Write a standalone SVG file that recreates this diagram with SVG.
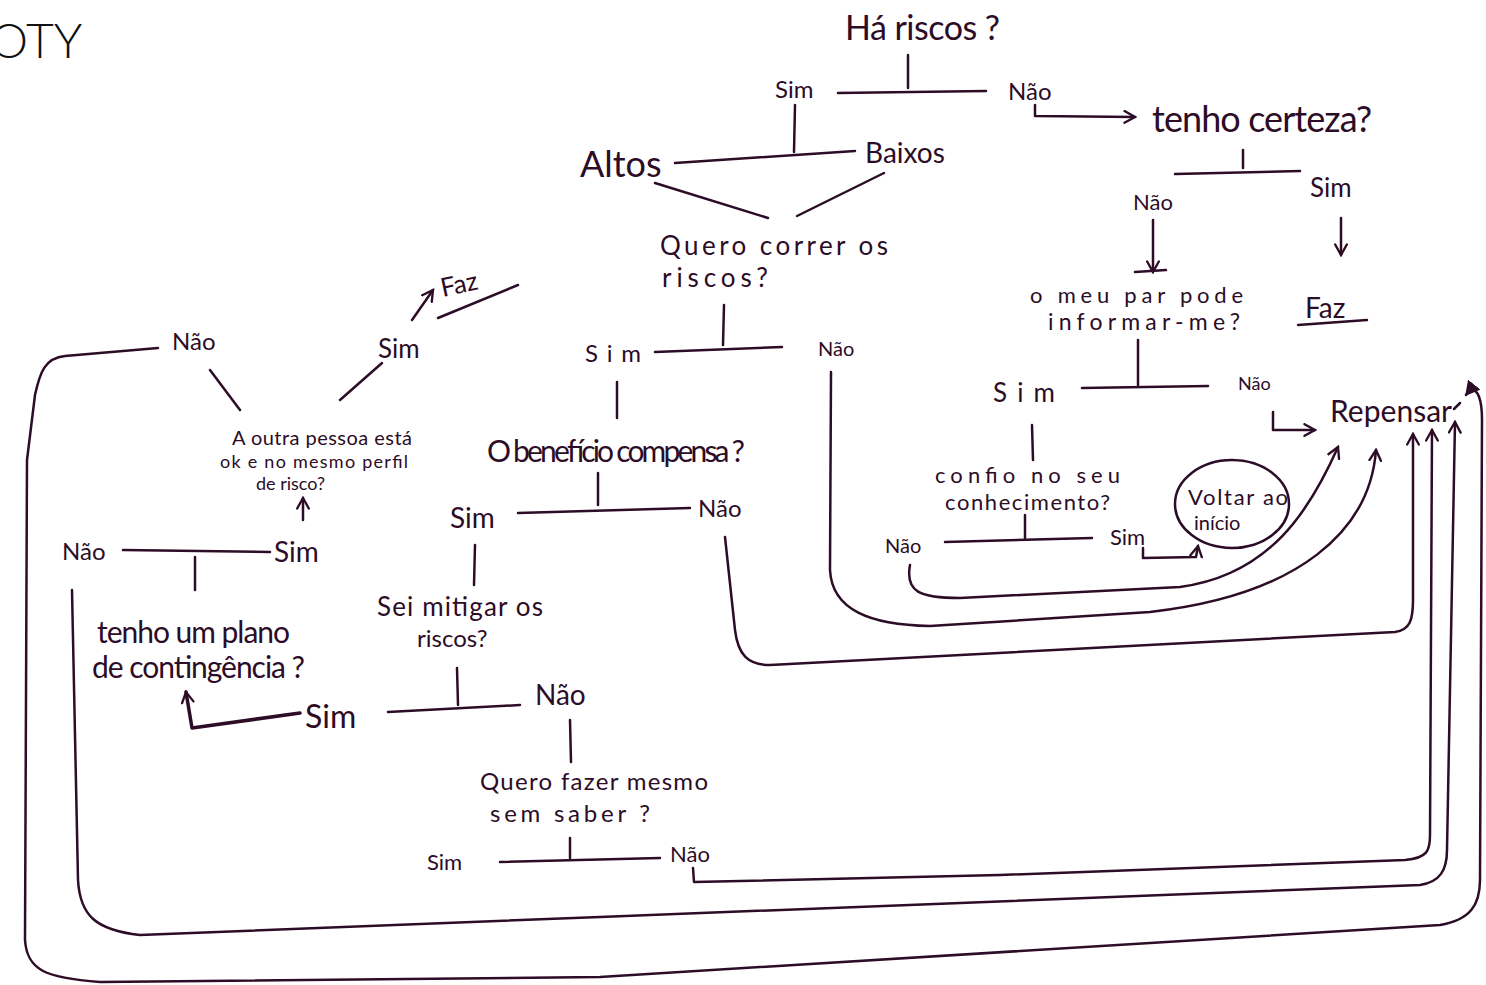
<svg xmlns="http://www.w3.org/2000/svg" width="1486" height="985" viewBox="0 0 1486 985">
<style>
.t{font-family:Lato,"Liberation Sans",sans-serif;fill:#2c0c26}
.c{fill:none;stroke:#2c0c26;stroke-width:2.5;stroke-linecap:round;stroke-linejoin:round}
.k{stroke-width:3.5}
.hdr{font-family:Lato,"Liberation Sans",sans-serif;font-weight:300;fill:#111}
</style>
<defs>
<marker id="a" viewBox="0 0 12 12" refX="10" refY="6" markerWidth="14" markerHeight="14" markerUnits="userSpaceOnUse" orient="auto">
<path d="M1,1 L10,6 L1,11" fill="none" stroke="#2c0c26" stroke-width="2" stroke-linecap="round"/>
</marker>
<marker id="f" viewBox="0 0 12 12" refX="10" refY="6" markerWidth="16" markerHeight="16" markerUnits="userSpaceOnUse" orient="auto">
<path d="M0,0 L11,6 L0,12 Z" fill="#2c0c26"/>
</marker>
</defs>
<rect width="1486" height="985" fill="#fff"/>
<text class="hdr" x="-10" y="58" font-size="48">OTY</text>

<g id="connectors">
<path class="c" d="M908,55 L908,88"/>
<path class="c" d="M838,93 L986,91"/>
<path class="c" d="M795,105 L794,152"/>
<path class="c" d="M675,163 L855,151"/>
<path class="c" d="M655,183 L768,218"/>
<path class="c" d="M884,173 L797,216"/>
<path class="c" d="M1035,105 L1035,116 L1135,117" marker-end="url(#a)"/>
<path class="c" d="M1243,150 L1243,168"/>
<path class="c" d="M1175,174 L1300,171"/>
<path class="c" d="M1153,220 L1153,272" marker-end="url(#a)"/>
<path class="c" d="M1135,272 L1166,270"/>
<path class="c" d="M1341,218 L1341,255" marker-end="url(#a)"/>
<path class="c" d="M1298,325 L1367,320"/>
<path class="c" d="M1138,340 L1138,385"/>
<path class="c" d="M1082,388 L1208,386"/>
<path class="c" d="M1273,412 L1273,430 L1315,430" marker-end="url(#a)"/>
<path class="c" d="M1032,425 L1033,460"/>
<path class="c" d="M1025,515 L1025,538"/>
<path class="c" d="M945,542 L1092,538"/>
<path class="c" d="M1143,548 L1143,558 L1196,557 L1198,546" marker-end="url(#a)"/>
<path class="c" d="M910,565 C905,592 920,598 960,598 L1180,587 C1270,575 1310,510 1338,447" marker-end="url(#a)"/>
<path class="c" d="M831,372 L830,570 C832,610 870,625 930,626 L1150,612 C1300,595 1370,530 1376,450" marker-end="url(#a)"/>
<path class="c" d="M725,537 L735,630 C738,655 748,665 770,665 L1395,632 C1410,630 1413,620 1413,600 L1413,434" marker-end="url(#a)"/>
<path class="c" d="M1454,409 L1460,403"/>
<path class="c" d="M693,868 L694,882 L1000,875 L1405,860 C1428,858 1430,850 1430,835 L1432,430" marker-end="url(#a)"/>
<path class="c" d="M72,590 L78,880 C80,915 95,930 140,935 L600,917 L1420,885 C1440,882 1447,870 1447,850 L1455,422" marker-end="url(#a)"/>
<path class="c" d="M158,348 L65,356 C45,358 40,372 35,395 L27,460 L25,940 C27,970 45,978 100,982 L600,977 L1440,925 C1470,920 1480,905 1480,880 L1482,420 C1482,400 1478,388 1470,390 L1466,395" marker-end="url(#f)"/>
<path class="c" d="M724,305 L723,345"/>
<path class="c" d="M655,352 L782,347"/>
<path class="c" d="M617,382 L617,418"/>
<path class="c" d="M598,473 L598,505"/>
<path class="c" d="M518,513 L690,508"/>
<path class="c" d="M475,545 L474,585"/>
<path class="c" d="M457,668 L458,705"/>
<path class="c" d="M388,712 L520,705"/>
<path class="c k" d="M300,713 L192,728 L186,692" marker-end="url(#a)"/>
<path class="c" d="M570,720 L571,762"/>
<path class="c" d="M570,838 L570,858"/>
<path class="c" d="M500,862 L660,858"/>
<path class="c" d="M195,557 L195,590"/>
<path class="c" d="M123,550 L270,552"/>
<path class="c" d="M303,520 L303,498" marker-end="url(#a)"/>
<path class="c" d="M240,410 L210,370"/>
<path class="c" d="M340,400 L382,363"/>
<path class="c" d="M412,320 L433,290" marker-end="url(#a)"/>
<path class="c" d="M438,318 L518,285" stroke-width="4.5"/>
</g>

<g id="n-ha-riscos"><text class="t" x="845" y="40" font-size="34" textLength="155" lengthAdjust="spacing">Há riscos ?</text></g>
<g id="n-sim1"><text class="t" x="775" y="98" font-size="24">Sim</text></g>
<g id="n-nao1"><text class="t" x="1008" y="100" font-size="24">Não</text></g>
<g id="n-certeza"><text class="t" x="1152" y="132" font-size="36" textLength="220" lengthAdjust="spacing">tenho certeza?</text></g>
<g id="n-altos"><text class="t" x="580" y="177" font-size="36">Altos</text></g>
<g id="n-baixos"><text class="t" x="865" y="163" font-size="28">Baixos</text></g>
<g id="n-quero"><text class="t" x="660" y="255" font-size="26" textLength="228" lengthAdjust="spacing">Quero correr os</text><text class="t" x="662" y="287" font-size="26" textLength="106" lengthAdjust="spacing">riscos?</text></g>
<g id="n-sim2"><text class="t" x="585" y="362" font-size="24" textLength="56" lengthAdjust="spacing">Sim</text></g>
<g id="n-nao2"><text class="t" x="818" y="356" font-size="20">Não</text></g>
<g id="n-beneficio"><text class="t" x="487" y="462" font-size="30" textLength="258" lengthAdjust="spacing">O benefício compensa ?</text></g>
<g id="n-sim3"><text class="t" x="450" y="528" font-size="28">Sim</text></g>
<g id="n-nao3"><text class="t" x="698" y="517" font-size="24">Não</text></g>
<g id="n-mitigar"><text class="t" x="377" y="616" font-size="26" textLength="166" lengthAdjust="spacing">Sei mitigar os</text><text class="t" x="417" y="647" font-size="24">riscos?</text></g>
<g id="n-sim4"><text class="t" x="305" y="728" font-size="32">Sim</text></g>
<g id="n-nao4"><text class="t" x="535" y="705" font-size="28">Não</text></g>
<g id="n-plano"><text class="t" x="97" y="643" font-size="30" textLength="193" lengthAdjust="spacing">tenho um plano</text><text class="t" x="92" y="678" font-size="30" textLength="213" lengthAdjust="spacing">de contingência ?</text></g>
<g id="n-nao5"><text class="t" x="62" y="560" font-size="24">Não</text></g>
<g id="n-sim5"><text class="t" x="274" y="562" font-size="28">Sim</text></g>
<g id="n-outra"><text class="t" x="232" y="445" font-size="20" textLength="180" lengthAdjust="spacing">A outra pessoa está</text><text class="t" x="220" y="468" font-size="18" textLength="188" lengthAdjust="spacing">ok e no mesmo perfil</text><text class="t" x="256" y="490" font-size="18">de risco?</text></g>
<g id="n-nao6"><text class="t" x="172" y="350" font-size="24">Não</text></g>
<g id="n-sim6"><text class="t" x="378" y="358" font-size="26">Sim</text></g>
<g id="n-faz1"><text class="t" x="440" y="292" font-size="26" transform="rotate(-12 465 282)">Faz</text></g>
<g id="n-fazer"><text class="t" x="480" y="790" font-size="24" textLength="228" lengthAdjust="spacing">Quero fazer mesmo</text><text class="t" x="490" y="822" font-size="24" textLength="160" lengthAdjust="spacing">sem saber ?</text></g>
<g id="n-sim7"><text class="t" x="427" y="870" font-size="22">Sim</text></g>
<g id="n-nao7"><text class="t" x="670" y="862" font-size="22">Não</text></g>
<g id="n-par"><text class="t" x="1030" y="303" font-size="22" textLength="213" lengthAdjust="spacing">o meu par pode</text><text class="t" x="1048" y="330" font-size="23" textLength="192" lengthAdjust="spacing">informar-me?</text></g>
<g id="n-nao8"><text class="t" x="1133" y="210" font-size="22">Não</text></g>
<g id="n-sim8"><text class="t" x="1310" y="197" font-size="26">Sim</text></g>
<g id="n-faz2"><text class="t" x="1305" y="318" font-size="28">Faz</text></g>
<g id="n-sim9"><text class="t" x="993" y="402" font-size="26" textLength="62" lengthAdjust="spacing">Sim</text></g>
<g id="n-nao9"><text class="t" x="1238" y="390" font-size="18">Não</text></g>
<g id="n-repensar"><text class="t" x="1330" y="422" font-size="30" textLength="122" lengthAdjust="spacing">Repensar</text></g>
<g id="n-confio"><text class="t" x="935" y="483" font-size="22" textLength="185" lengthAdjust="spacing">confio no seu</text><text class="t" x="945" y="510" font-size="22" textLength="165" lengthAdjust="spacing">conhecimento?</text></g>
<g id="n-nao10"><text class="t" x="885" y="553" font-size="20">Não</text></g>
<g id="n-sim10"><text class="t" x="1110" y="545" font-size="22">Sim</text></g>
<g id="n-voltar"><ellipse class="c" cx="1232" cy="504" rx="57" ry="44"/><text class="t" x="1188" y="505" font-size="22" textLength="100" lengthAdjust="spacing">Voltar ao</text><text class="t" x="1194" y="530" font-size="20">início</text></g>
</svg>
